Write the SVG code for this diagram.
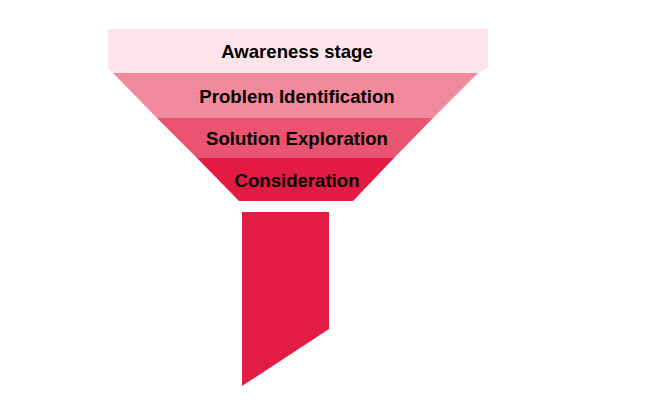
<svg xmlns="http://www.w3.org/2000/svg" width="650" height="400" viewBox="0 0 650 400">
<style>
.lbl{font-family:"Liberation Sans",Arial,sans-serif;font-weight:bold;font-size:18.6px;fill:#000;text-anchor:middle}
</style>
<rect width="650" height="400" fill="#fff"/>
<g id="awareness">
<polygon points="108,29 488,29 488,67 479,73 113,73 108,68" fill="#FCE4EA"/>
<text class="lbl" x="297" y="57.5">Awareness stage</text>
</g>
<g id="problem">
<polygon points="113,73 478,73 433,118 157,118" fill="#F28A9D"/>
<text class="lbl" x="297" y="103">Problem Identification</text>
</g>
<g id="solution">
<polygon points="157,118 433,118 394,158 197,158" fill="#EA5470"/>
<text class="lbl" x="297" y="145">Solution Exploration</text>
</g>
<g id="consideration">
<polygon points="197,158 394,158 353,201 239,201" fill="#E31B43"/>
<text class="lbl" x="297" y="187">Consideration</text>
</g>
<g id="spout">
<polygon points="242,212 329,212 329,329 242,386" fill="#E31C45"/>
</g>
<g id="connectors"></g>
</svg>
